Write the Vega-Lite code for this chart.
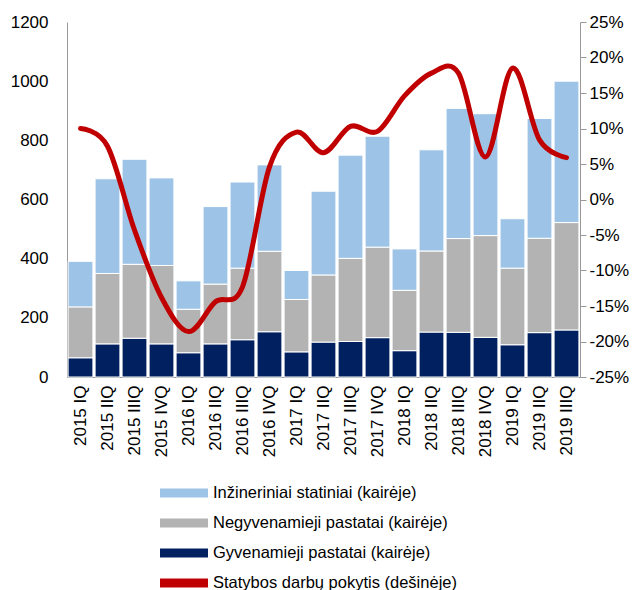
{
  "$schema": "https://vega.github.io/schema/vega-lite/v6.json",
  "width": 513,
  "height": 355,
  "autosize": "none",
  "padding": {"left": 67, "top": 22, "right": 63, "bottom": 213},
  "background": "white",
  "config": {
    "font": "Liberation Sans",
    "view": {"stroke": null},
    "axis": {"grid": false, "labelFont": "Liberation Sans", "labelFontSize": 17, "labelColor": "#000000", "domainColor": "#999999", "tickColor": "#999999", "title": null}
  },
  "datasets": {
    "bars": [
      {"q": "2015 IQ", "series": "Gyvenamieji pastatai (kairėje)", "v": 65},
      {"q": "2015 IQ", "series": "Negyvenamieji pastatai (kairėje)", "v": 172},
      {"q": "2015 IQ", "series": "Inžineriniai statiniai (kairėje)", "v": 154},
      {"q": "2015 IIQ", "series": "Gyvenamieji pastatai (kairėje)", "v": 112},
      {"q": "2015 IIQ", "series": "Negyvenamieji pastatai (kairėje)", "v": 238},
      {"q": "2015 IIQ", "series": "Inžineriniai statiniai (kairėje)", "v": 320},
      {"q": "2015 IIIQ", "series": "Gyvenamieji pastatai (kairėje)", "v": 131},
      {"q": "2015 IIIQ", "series": "Negyvenamieji pastatai (kairėje)", "v": 250},
      {"q": "2015 IIIQ", "series": "Inžineriniai statiniai (kairėje)", "v": 355},
      {"q": "2015 IVQ", "series": "Gyvenamieji pastatai (kairėje)", "v": 112},
      {"q": "2015 IVQ", "series": "Negyvenamieji pastatai (kairėje)", "v": 265},
      {"q": "2015 IVQ", "series": "Inžineriniai statiniai (kairėje)", "v": 296},
      {"q": "2016 IQ", "series": "Gyvenamieji pastatai (kairėje)", "v": 82},
      {"q": "2016 IQ", "series": "Negyvenamieji pastatai (kairėje)", "v": 147},
      {"q": "2016 IQ", "series": "Inžineriniai statiniai (kairėje)", "v": 96},
      {"q": "2016 IIQ", "series": "Gyvenamieji pastatai (kairėje)", "v": 112},
      {"q": "2016 IIQ", "series": "Negyvenamieji pastatai (kairėje)", "v": 202},
      {"q": "2016 IIQ", "series": "Inžineriniai statiniai (kairėje)", "v": 262},
      {"q": "2016 IIIQ", "series": "Gyvenamieji pastatai (kairėje)", "v": 126},
      {"q": "2016 IIIQ", "series": "Negyvenamieji pastatai (kairėje)", "v": 242},
      {"q": "2016 IIIQ", "series": "Inžineriniai statiniai (kairėje)", "v": 291},
      {"q": "2016 IVQ", "series": "Gyvenamieji pastatai (kairėje)", "v": 153},
      {"q": "2016 IVQ", "series": "Negyvenamieji pastatai (kairėje)", "v": 272},
      {"q": "2016 IVQ", "series": "Inžineriniai statiniai (kairėje)", "v": 292},
      {"q": "2017 IQ", "series": "Gyvenamieji pastatai (kairėje)", "v": 85},
      {"q": "2017 IQ", "series": "Negyvenamieji pastatai (kairėje)", "v": 177},
      {"q": "2017 IQ", "series": "Inžineriniai statiniai (kairėje)", "v": 98},
      {"q": "2017 IIQ", "series": "Gyvenamieji pastatai (kairėje)", "v": 118},
      {"q": "2017 IIQ", "series": "Negyvenamieji pastatai (kairėje)", "v": 227},
      {"q": "2017 IIQ", "series": "Inžineriniai statiniai (kairėje)", "v": 283},
      {"q": "2017 IIIQ", "series": "Gyvenamieji pastatai (kairėje)", "v": 120},
      {"q": "2017 IIIQ", "series": "Negyvenamieji pastatai (kairėje)", "v": 281},
      {"q": "2017 IIIQ", "series": "Inžineriniai statiniai (kairėje)", "v": 349},
      {"q": "2017 IVQ", "series": "Gyvenamieji pastatai (kairėje)", "v": 133},
      {"q": "2017 IVQ", "series": "Negyvenamieji pastatai (kairėje)", "v": 306},
      {"q": "2017 IVQ", "series": "Inžineriniai statiniai (kairėje)", "v": 375},
      {"q": "2018 IQ", "series": "Gyvenamieji pastatai (kairėje)", "v": 89},
      {"q": "2018 IQ", "series": "Negyvenamieji pastatai (kairėje)", "v": 204},
      {"q": "2018 IQ", "series": "Inžineriniai statiniai (kairėje)", "v": 140},
      {"q": "2018 IIQ", "series": "Gyvenamieji pastatai (kairėje)", "v": 152},
      {"q": "2018 IIQ", "series": "Negyvenamieji pastatai (kairėje)", "v": 274},
      {"q": "2018 IIQ", "series": "Inžineriniai statiniai (kairėje)", "v": 342},
      {"q": "2018 IIIQ", "series": "Gyvenamieji pastatai (kairėje)", "v": 151},
      {"q": "2018 IIIQ", "series": "Negyvenamieji pastatai (kairėje)", "v": 317},
      {"q": "2018 IIIQ", "series": "Inžineriniai statiniai (kairėje)", "v": 440},
      {"q": "2018 IVQ", "series": "Gyvenamieji pastatai (kairėje)", "v": 134},
      {"q": "2018 IVQ", "series": "Negyvenamieji pastatai (kairėje)", "v": 344},
      {"q": "2018 IVQ", "series": "Inžineriniai statiniai (kairėje)", "v": 412},
      {"q": "2019 IQ", "series": "Gyvenamieji pastatai (kairėje)", "v": 109},
      {"q": "2019 IQ", "series": "Negyvenamieji pastatai (kairėje)", "v": 259},
      {"q": "2019 IQ", "series": "Inžineriniai statiniai (kairėje)", "v": 167},
      {"q": "2019 IIQ", "series": "Gyvenamieji pastatai (kairėje)", "v": 150},
      {"q": "2019 IIQ", "series": "Negyvenamieji pastatai (kairėje)", "v": 319},
      {"q": "2019 IIQ", "series": "Inžineriniai statiniai (kairėje)", "v": 405},
      {"q": "2019 IIIQ", "series": "Gyvenamieji pastatai (kairėje)", "v": 159},
      {"q": "2019 IIIQ", "series": "Negyvenamieji pastatai (kairėje)", "v": 363},
      {"q": "2019 IIIQ", "series": "Inžineriniai statiniai (kairėje)", "v": 478}
    ],
    "line": [
      {"q": "2015 IQ", "pct": 10.0},
      {"q": "2015 IIQ", "pct": 7.5},
      {"q": "2015 IIIQ", "pct": -4.3},
      {"q": "2015 IVQ", "pct": -13.8},
      {"q": "2016 IQ", "pct": -18.6},
      {"q": "2016 IIQ", "pct": -14.4},
      {"q": "2016 IIIQ", "pct": -12.3},
      {"q": "2016 IVQ", "pct": 4.6},
      {"q": "2017 IQ", "pct": 9.5},
      {"q": "2017 IIQ", "pct": 6.6},
      {"q": "2017 IIIQ", "pct": 10.3},
      {"q": "2017 IVQ", "pct": 9.6},
      {"q": "2018 IQ", "pct": 14.6},
      {"q": "2018 IIQ", "pct": 17.8},
      {"q": "2018 IIIQ", "pct": 17.8},
      {"q": "2018 IVQ", "pct": 6.0},
      {"q": "2019 IQ", "pct": 18.5},
      {"q": "2019 IIQ", "pct": 8.4},
      {"q": "2019 IIIQ", "pct": 5.9}
    ]
  },
  "encoding": {
    "x": {
      "field": "q",
      "type": "nominal",
      "sort": null,
      "scale": {"paddingInner": 0.08, "paddingOuter": 0.04},
      "axis": {"labelAngle": -90, "labelAlign": "right", "labelBaseline": "middle", "ticks": false, "labelPadding": 8, "domainColor": "#999999"}
    }
  },
  "layer": [
    {
      "data": {"name": "bars"},
      "transform": [
        {"calculate": "indexof(['Gyvenamieji pastatai (kairėje)', 'Negyvenamieji pastatai (kairėje)', 'Inžineriniai statiniai (kairėje)'], datum.series)", "as": "stk"}
      ],
      "mark": {"type": "bar", "stroke": "white", "strokeWidth": 1},
      "encoding": {
        "y": {
          "field": "v",
          "type": "quantitative",
          "stack": "zero",
          "scale": {"domain": [0, 1200], "nice": false},
          "axis": {"values": [0, 200, 400, 600, 800, 1000, 1200], "format": "d", "ticks": false, "labelPadding": 19}
        },
        "order": {"field": "stk", "type": "quantitative", "sort": "ascending"},
        "color": {
          "field": "series",
          "type": "nominal",
          "scale": {
            "domain": ["Inžineriniai statiniai (kairėje)", "Negyvenamieji pastatai (kairėje)", "Gyvenamieji pastatai (kairėje)", "Statybos darbų pokytis (dešinėje)"],
            "range": ["#9DC3E6", "#B3B3B3", "#002060", "#C00000"]
          },
          "legend": {
            "title": null,
            "orient": "none",
            "legendX": 107,
            "legendY": 461,
            "direction": "vertical",
            "padding": 0,
            "labelFont": "Liberation Sans",
            "labelFontSize": 16.5,
            "labelColor": "#000000",
            "labelLimit": 400,
            "labelOffset": 19,
            "symbolSize": 400,
            "symbolType": "M-2.4,-0.45L2.4,-0.45L2.4,0.45L-2.4,0.45Z",
            "symbolStrokeWidth": 0,
            "symbolOpacity": 1,
            "rowPadding": 11,
            "encode": {
              "symbols": {
                "update": {
                  "shape": {"signal": "datum.value === 'Statybos darbų pokytis (dešinėje)' ? 'M-2.4,-0.2L2.4,-0.2L2.4,0.2L-2.4,0.2Z' : 'M-2.4,-0.45L2.4,-0.45L2.4,0.45L-2.4,0.45Z'"},
                  "fill": {"scale": "color", "field": "value"},
                  "stroke": {"value": "transparent"},
                  "strokeWidth": {"value": 0},
                  "opacity": {"value": 1},
                  "fillOpacity": {"value": 1}
                }
              }
            }
          }
        }
      }
    },
    {
      "data": {"name": "line"},
      "mark": {"type": "line", "interpolate": "cardinal", "strokeWidth": 5, "strokeCap": "round", "strokeJoin": "round"},
      "encoding": {
        "y": {
          "field": "pct",
          "type": "quantitative",
          "scale": {"domain": [-25, 25], "nice": false},
          "axis": {"orient": "right", "values": [-25, -20, -15, -10, -5, 0, 5, 10, 15, 20, 25], "labelExpr": "datum.value + '%'", "tickSize": 6, "labelPadding": 3, "domainColor": "#999999"}
        },
        "color": {"datum": "Statybos darbų pokytis (dešinėje)"}
      }
    }
  ],
  "resolve": {"scale": {"y": "independent"}}
}
